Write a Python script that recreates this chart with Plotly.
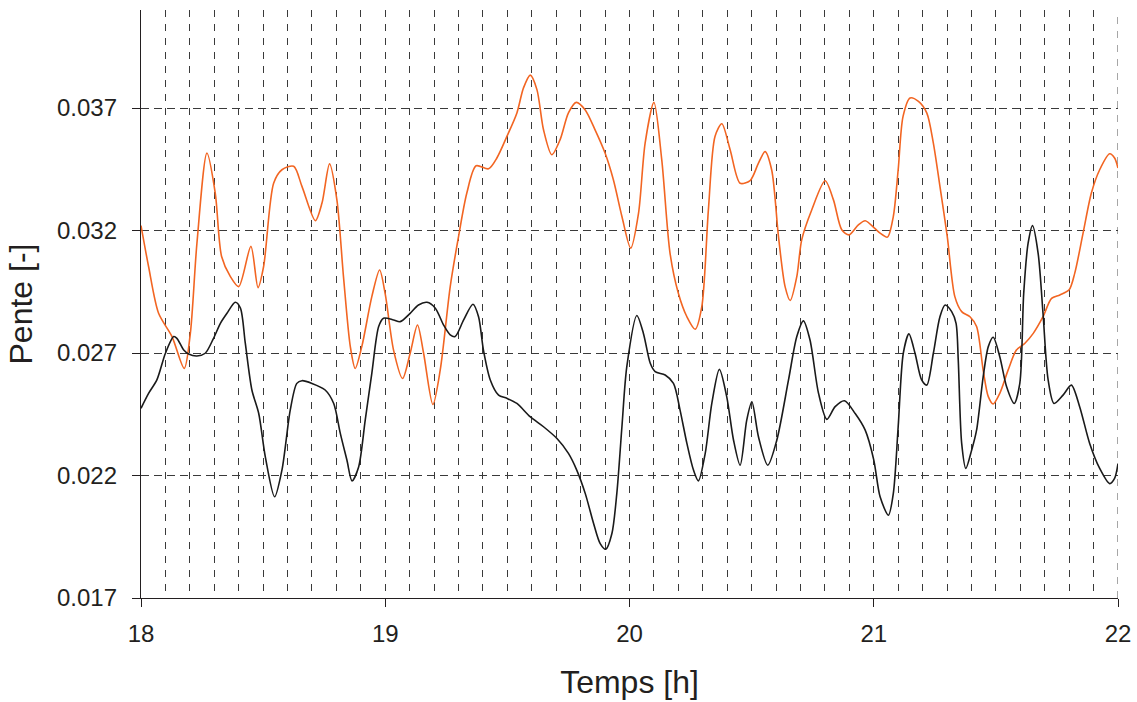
import plotly.graph_objects as go

# Orange series: time [h] and slope [-]
orange_t = [18.0, 18.031, 18.072, 18.127, 18.177, 18.202, 18.229, 18.27, 18.304, 18.33,
            18.366, 18.4, 18.45, 18.479, 18.502, 18.543, 18.577, 18.625, 18.659, 18.714,
            18.741, 18.772, 18.802, 18.829, 18.857, 18.877, 18.904, 18.945, 18.977, 19.0,
            19.034, 19.071, 19.102, 19.132, 19.157, 19.195, 19.225, 19.266, 19.3, 19.334,
            19.372, 19.423, 19.457, 19.498, 19.539, 19.566, 19.594, 19.621, 19.648, 19.682,
            19.716, 19.75, 19.782, 19.818, 19.859, 19.9, 19.934, 19.969, 20.005, 20.037,
            20.064, 20.1, 20.132, 20.166, 20.2, 20.235, 20.269, 20.296, 20.323, 20.35,
            20.378, 20.412, 20.453, 20.494, 20.528, 20.555, 20.582, 20.61, 20.637, 20.658,
            20.685, 20.705, 20.746, 20.801, 20.835, 20.869, 20.899, 20.937, 20.965, 21.003,
            21.026, 21.056, 21.08, 21.1, 21.12, 21.149, 21.183, 21.217, 21.244, 21.271,
            21.301, 21.332, 21.36, 21.394, 21.421, 21.448, 21.469, 21.489, 21.516, 21.55,
            21.584, 21.619, 21.653, 21.693, 21.728, 21.762, 21.8, 21.823, 21.857, 21.891,
            21.925, 21.966, 21.986, 22.0]
orange_v = [0.0322, 0.03053, 0.02862, 0.02767, 0.02637, 0.0278, 0.03148, 0.03516, 0.03353, 0.03094,
            0.03012, 0.02971, 0.03135, 0.02967, 0.03053, 0.03393, 0.03448, 0.03462, 0.0338, 0.0324,
            0.03312, 0.03472, 0.03325, 0.03012, 0.02726, 0.02637, 0.02726, 0.0293, 0.03039, 0.0294,
            0.02712, 0.02596, 0.02699, 0.02814, 0.02699, 0.0249, 0.0263, 0.02971, 0.03175, 0.03353,
            0.03464, 0.03452, 0.03496, 0.03584, 0.0368, 0.03782, 0.03834, 0.03775, 0.03611, 0.03509,
            0.03571, 0.0368, 0.03723, 0.03693, 0.03611, 0.03516, 0.03407, 0.03257, 0.03128, 0.03271,
            0.03557, 0.03723, 0.03489, 0.03107, 0.02944, 0.02848, 0.02797, 0.02889, 0.03284, 0.03584,
            0.03636, 0.0353, 0.03393, 0.03404, 0.03475, 0.03522, 0.03448, 0.03175, 0.02971, 0.02914,
            0.03012, 0.03162, 0.03284, 0.03403, 0.03325, 0.03203, 0.03182, 0.03223, 0.0324, 0.0321,
            0.03189, 0.03173, 0.03257, 0.03448, 0.03666, 0.03741, 0.03727, 0.0368, 0.03557, 0.0338,
            0.03175, 0.0293, 0.02869, 0.02848, 0.02808, 0.0263, 0.02522, 0.02492, 0.02535, 0.0263,
            0.02712, 0.0274, 0.0278, 0.02848, 0.02923, 0.02937, 0.02958, 0.03026, 0.03189, 0.03353,
            0.03448, 0.03513, 0.03496, 0.03455]

# Black series: time [h] and slope [-]
black_t = [18.0, 18.031, 18.065, 18.1, 18.134, 18.147, 18.175, 18.195, 18.229, 18.263,
           18.297, 18.325, 18.352, 18.386, 18.407, 18.427, 18.454, 18.482, 18.509, 18.547,
           18.577, 18.611, 18.638, 18.659, 18.7, 18.754, 18.789, 18.816, 18.843, 18.864,
           18.891, 18.918, 18.945, 18.973, 18.993, 19.034, 19.061, 19.102, 19.136, 19.171,
           19.205, 19.239, 19.266, 19.286, 19.321, 19.359, 19.382, 19.402, 19.43, 19.464,
           19.498, 19.539, 19.593, 19.648, 19.703, 19.75, 19.784, 19.819, 19.853, 19.88,
           19.903, 19.928, 19.948, 19.969, 19.989, 20.03, 20.057, 20.085, 20.105, 20.146,
           20.18, 20.207, 20.235, 20.262, 20.282, 20.31, 20.337, 20.368, 20.398, 20.426,
           20.453, 20.48, 20.501, 20.528, 20.566, 20.603, 20.651, 20.685, 20.712, 20.739,
           20.774, 20.808, 20.842, 20.88, 20.924, 20.965, 21.0, 21.026, 21.06, 21.08,
           21.1, 21.121, 21.144, 21.169, 21.196, 21.217, 21.244, 21.271, 21.292, 21.319,
           21.337, 21.346, 21.36, 21.377, 21.401, 21.421, 21.448, 21.469, 21.489, 21.516,
           21.544, 21.575, 21.598, 21.614, 21.632, 21.65, 21.673, 21.693, 21.714, 21.738,
           21.775, 21.809, 21.843, 21.884, 21.925, 21.966, 21.986, 22.0]
black_v = [0.02474, 0.02535, 0.0259, 0.02699, 0.02767, 0.0276, 0.02712, 0.02696, 0.02688, 0.02699,
           0.0276, 0.02821, 0.02862, 0.02907, 0.02883, 0.0274, 0.02549, 0.02453, 0.02276, 0.02113,
           0.02222, 0.02467, 0.02576, 0.02587, 0.02576, 0.02549, 0.02494, 0.02372, 0.02263, 0.02178,
           0.02235, 0.02426, 0.02617, 0.02808, 0.02842, 0.02835, 0.02828, 0.02862, 0.02896, 0.02907,
           0.02883, 0.02814, 0.02774, 0.02767, 0.02835, 0.02899, 0.02848, 0.02712, 0.0259, 0.02528,
           0.02515, 0.02494, 0.0244, 0.02399, 0.02351, 0.0229, 0.02222, 0.02126, 0.02004, 0.01922,
           0.01899, 0.01963, 0.02126, 0.02399, 0.02644, 0.02853, 0.0278, 0.02658, 0.02624, 0.0261,
           0.02576, 0.02467, 0.02331, 0.02222, 0.02178, 0.0229, 0.02494, 0.02633, 0.02522, 0.02344,
           0.02242, 0.02426, 0.02501, 0.02358, 0.02242, 0.02344, 0.0259, 0.02767, 0.02831, 0.02753,
           0.02535, 0.02429, 0.02481, 0.02505, 0.02453, 0.02385, 0.02264, 0.02113, 0.02038, 0.02126,
           0.02399, 0.02699, 0.02778, 0.02699, 0.0259, 0.02569, 0.02699, 0.02848, 0.02896, 0.02869,
           0.02821, 0.02671, 0.02331, 0.02229, 0.02304, 0.02385, 0.02603, 0.02726, 0.02764, 0.02685,
           0.02562, 0.02494, 0.02576, 0.02944, 0.03148, 0.0322, 0.03107, 0.02862, 0.0259, 0.02494,
           0.02528, 0.02569, 0.02481, 0.02331, 0.02229, 0.02167, 0.02188, 0.02249]

y_ticks = [0.017, 0.022, 0.027, 0.032, 0.037]
x_ticks = [18, 19, 20, 21, 22]
x_range = [18, 22]
y_range = [0.017, 0.041]

FONT = "Liberation Sans, Arial, sans-serif"
TEXT = "#231f20"
GRID = "#3a3a3a"

fig = go.Figure()
fig.add_trace(go.Scatter(x=orange_t, y=orange_v, mode="lines",
                         line=dict(color="#F26522", width=1.6, shape="spline", smoothing=0.8),
                         showlegend=False))
fig.add_trace(go.Scatter(x=black_t, y=black_v, mode="lines",
                         line=dict(color="#1a1a1a", width=1.6, shape="spline", smoothing=0.8),
                         showlegend=False))

# grid line on the right-hand edge of the plot (not drawn by the axis at the range end)
fig.add_shape(type="line", xref="x", yref="y", x0=x_range[1], x1=x_range[1],
              y0=y_range[0], y1=y_range[1], layer="below",
              line=dict(color="#777777", width=1.3, dash="7px,7px"))

fig.update_layout(
    width=1137, height=702,
    margin=dict(l=141, r=19, t=10, b=104),
    paper_bgcolor="white", plot_bgcolor="white",
    font=dict(family=FONT, color=TEXT, size=24),
    showlegend=False,
)

fig.update_xaxes(
    range=x_range, tickvals=x_ticks, ticktext=[str(v) for v in x_ticks],
    automargin=False,
    showline=True, linecolor="#231f20", linewidth=1.3,
    ticks="outside", ticklen=8, tickwidth=1.2, tickcolor="#231f20",
    tickfont=dict(size=24, family=FONT, color=TEXT),
    ticklabelstandoff=6,
    showgrid=True, gridcolor=GRID, gridwidth=1, griddash="7px,7px",
    minor=dict(dtick=0.1, tick0=18, showgrid=True, gridcolor=GRID, gridwidth=1,
               griddash="7px,7px", ticks=""),
    zeroline=False,
    title=dict(text="Temps [h]", font=dict(size=32, family=FONT, color=TEXT), standoff=24),
)
fig.update_yaxes(
    range=y_range, tickvals=y_ticks, ticktext=[f"{v:.3f}" for v in y_ticks],
    automargin=False,
    showline=True, linecolor="#231f20", linewidth=1.3,
    ticks="outside", ticklen=8, tickwidth=1.2, tickcolor="#231f20",
    tickfont=dict(size=24, family=FONT, color=TEXT),
    ticklabelstandoff=10,
    showgrid=True, gridcolor=GRID, gridwidth=1, griddash="8px,5px",
    zeroline=False,
    title=dict(text="Pente [-]", font=dict(size=32, family=FONT, color=TEXT), standoff=14),
)

fig.write_html("out.html")
